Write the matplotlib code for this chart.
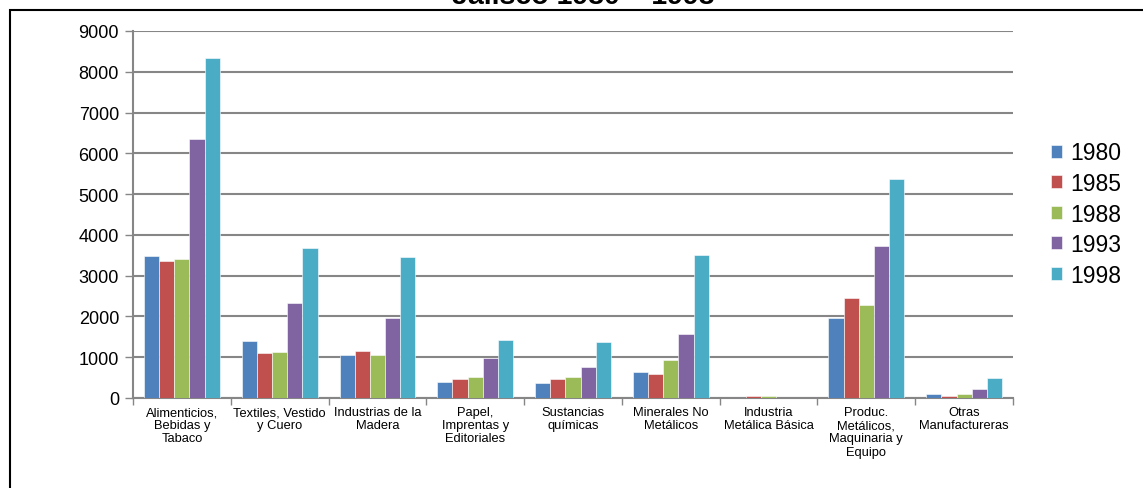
import matplotlib
matplotlib.use("Agg")
import matplotlib.pyplot as plt
from matplotlib.patches import Rectangle
import numpy as np

plt.rcParams['font.family'] = ['Liberation Sans', 'DejaVu Sans']

categories = ["Alimenticios,\nBebidas y\nTabaco", "Textiles, Vestido\ny Cuero",
              "Industrias de la\nMadera", "Papel,\nImprentas y\nEditoriales",
              "Sustancias\nquímicas", "Minerales No\nMetálicos",
              "Industria\nMetálica Básica", "Produc.\nMetálicos,\nMaquinaria y\nEquipo",
              "Otras\nManufactureras"]
years = ["1980", "1985", "1988", "1993", "1998"]
v1980 = [3480, 1390, 1050, 400, 360, 640, 10, 1960, 100]
v1985 = [3360, 1110, 1150, 470, 470, 590, 45, 2460, 40]
v1988 = [3400, 1130, 1050, 510, 520, 930, 40, 2280, 100]
v1993 = [6340, 2320, 1960, 980, 770, 1560, 5, 3720, 220]
v1998 = [8330, 3690, 3460, 1420, 1370, 3500, 5, 5380, 490]
series = [v1980, v1985, v1988, v1993, v1998]
colors = ["#4F81BD", "#C0504D", "#9BBB59", "#8064A2", "#4BACC6"]

fig = plt.figure(figsize=(11.43, 4.89), dpi=100)
ax = fig.add_axes([133/1143, 1-399/489, (1013-133)/1143, (399-32)/489])

n = len(categories)
x = np.arange(n)
bw = 0.155
for i, (vals, c, y) in enumerate(zip(series, colors, years)):
    ax.bar(x + (i - 2) * bw, vals, width=bw, color=c, edgecolor='white',
           linewidth=0.4, label=y, zorder=3)

ax.set_xlim(-0.5, n - 0.5)
ax.set_ylim(0, 9000)
ax.set_yticks(range(0, 9001, 1000))
ax.yaxis.grid(True, color='#868686', linewidth=1.5, zorder=0)
ax.set_axisbelow(True)
for s in ['top', 'right']:
    ax.spines[s].set_visible(False)
for s in ['left', 'bottom']:
    ax.spines[s].set_color('#868686')
    ax.spines[s].set_linewidth(1.5)
ax.tick_params(axis='y', labelsize=13, length=6, color='#868686', width=1, pad=4)
ax.set_xticks(x)
ax.set_xticklabels(categories, fontsize=9.3, linespacing=1.12)
ax.tick_params(axis='x', which='major', length=0, pad=6)
ax.set_xticks(np.arange(-0.5, n, 1), minor=True)
ax.tick_params(axis='x', which='minor', length=5, color='#868686', width=1)

fig.legend(loc='center left', bbox_to_anchor=(1051/1143, 1-215/489),
           fontsize=16.5, frameon=False, handlelength=0.5, handleheight=0.5,
           handletextpad=0.35, labelspacing=0.33, borderaxespad=0, borderpad=0)

fig.text(583/1143, 1-3.5/489, "Jalisco 1980 – 1998", ha='center', va='baseline',
         fontsize=20.5, fontweight='bold')

fig.patches.append(Rectangle((10/1143, -0.1), 1.2, 1.1 - 11/489, transform=fig.transFigure,
                             fill=False, edgecolor='black', linewidth=1.5))

fig.savefig("out.png", dpi=100)
